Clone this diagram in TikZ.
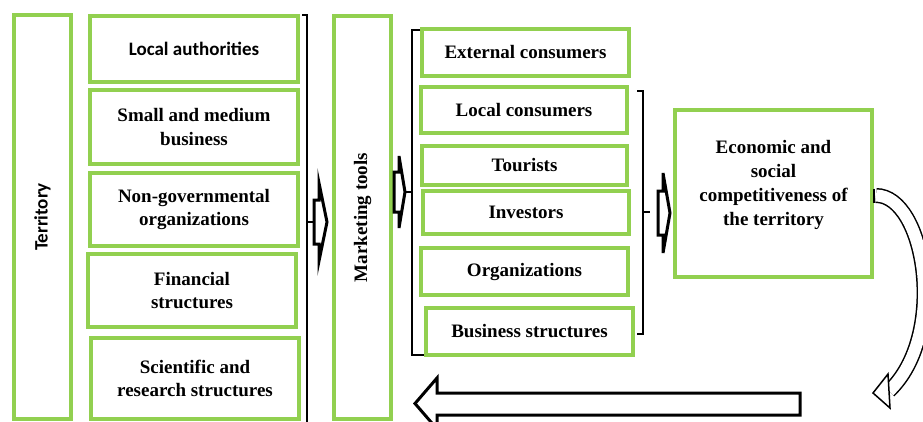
\documentclass[tikz,border=0pt]{standalone}
\usepackage{fontspec}
\setmainfont{Liberation Serif}
\newfontfamily\calfont{Carlito}
\usepackage{xcolor}
\usepackage{tikz}
\usetikzlibrary{positioning,calc}
\definecolor{boxgreen}{RGB}{146,208,80}
\tikzset{
    gbox/.style={draw=boxgreen, line width=4pt, align=center, inner sep=0pt,
        font=\fontsize{19}{23.5}\selectfont\bfseries},
    sbox/.style={gbox, font=\fontsize{19}{23.5}\selectfont\calfont\bfseries},
    chev/.style={draw, line width=3pt, fill=white, line join=miter},
    brk/.style={line width=1.5pt},
}

\begin{document}
\begin{tikzpicture}[x=1pt,y=-1pt]
    \useasboundingbox (0,0) rectangle (923,421);
    % left column
    \node[sbox, rotate=90, minimum width=404pt, minimum height=57pt] (terr) at (42.5,217) {Territory};
    \node[sbox, minimum width=208pt, minimum height=66pt] (auth) at (194,49) {Local authorities};
    \node[gbox, minimum width=208pt, minimum height=74pt] (smb) at (194,127) {Small and medium\\business};
    \node[gbox, minimum width=208pt, minimum height=73pt] (ngo) at (194,209.5) {Non-governmental\\organizations};
    \node[gbox, minimum width=208pt, minimum height=73pt] (fin) at (192,290.5) {Financial\\structures};
    \node[gbox, minimum width=208pt, minimum height=81pt] (sci) at (195,378.5) {Scientific and\\research structures};
    % middle column
    \node[gbox, rotate=90, minimum width=403pt, minimum height=57pt] (mkt) at (362.5,217.5) {Marketing tools};
    \node[gbox, minimum width=207pt, minimum height=47pt] (ext) at (525.5,52.5) {External consumers};
    \node[gbox, minimum width=206pt, minimum height=46pt] (loc) at (524,110) {Local consumers};
    \node[gbox, minimum width=205pt, minimum height=39pt] (tour) at (524.5,165.5) {Tourists};
    \node[gbox, minimum width=206pt, minimum height=43pt] (inv) at (526,212.5) {Investors};
    \node[gbox, minimum width=207pt, minimum height=47pt] (org) at (524.5,271.5) {Organizations};
    \node[gbox, minimum width=207pt, minimum height=47pt] (bus) at (529.5,331.5) {Business structures};
    % result
    \node[gbox, minimum width=197pt, minimum height=167pt] (eco) at (773.5,193.5) {};
    \node[align=center, inner sep=0pt, font=\fontsize{19}{24}\selectfont\bfseries] (ecotxt) at (773.5,185)
        {Economic and\\social\\competitiveness of\\the territory};

    % brackets
    \draw[brk] (302,15) -- (307,15) -- (307,425);
    \draw[brk] (307,222) -- (313,222);
    \draw[brk] (420,30) -- (412,30) -- (412,355) -- (424,355);
    \draw[brk] (405,192) -- (412,192);
    \draw[brk] (637,91) -- (643,91) -- (643,334) -- (637,334);
    \draw[brk] (643,212) -- (650,212);

    % small arrows
    \draw[chev, shift={(314,222)}] (0,-22) -- (5,-22) -- (5,-39) -- (13,0) -- (5,39) -- (5,22) -- (0,22) -- cycle;
    \draw[chev, shift={(394,192)}] (0,-20) -- (5,-20) -- (5,-36) -- (11,0) -- (5,36) -- (5,20) -- (0,20) -- cycle;
    \draw[chev, shift={(658,213)}] (0,-22) -- (5,-22) -- (5,-40) -- (12,0) -- (5,40) -- (5,22) -- (0,22) -- cycle;

    % curved feedback arrow
    \coordinate (hb) at (889,391);
    \draw[line width=1.5pt, double, double distance=12pt] ($(eco.east)+(2,2)$) .. controls (925,195.5) and (948,335) .. (hb);
    \draw[line width=1.5pt] (874,188.5) -- (874,202.5);
    \draw[line width=1.5pt, fill=white, line join=miter] (888,374) -- (873,393) -- (890,408) -- cycle;

    % back arrow
    \draw[chev] (800,393) -- (437,393) -- (437,378) -- (415,403.5) -- (437,429) -- (437,415) -- (800,415) -- cycle;
\end{tikzpicture}
\end{document}
